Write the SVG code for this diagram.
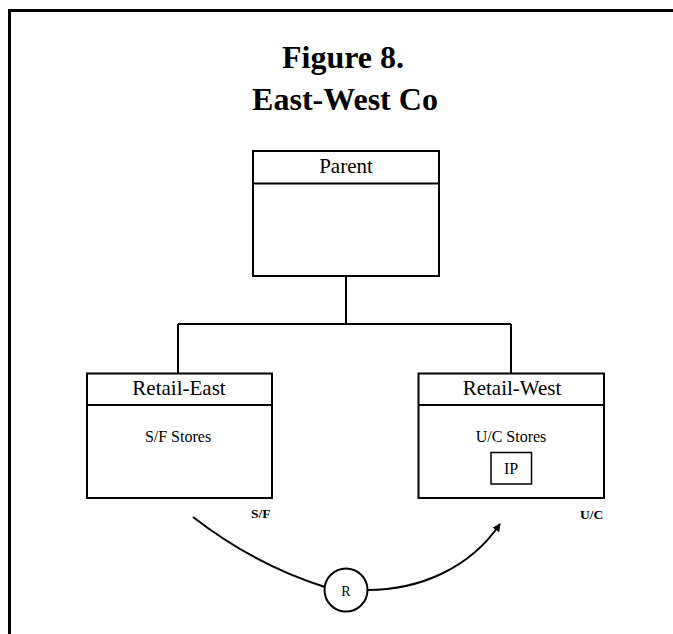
<svg xmlns="http://www.w3.org/2000/svg" width="673" height="634" viewBox="0 0 673 634">
<style>
.box{fill:none;stroke:#000;stroke-width:2}
.ln{fill:none;stroke:#000;stroke-width:2}
.title{font-family:"Liberation Serif","Times New Roman",serif;font-weight:bold;font-size:32px;fill:#000;text-anchor:middle}
.hd{font-family:"Liberation Serif","Times New Roman",serif;font-size:21px;fill:#000;text-anchor:middle}
.bd{font-family:"Liberation Serif","Times New Roman",serif;font-size:16px;fill:#000;text-anchor:middle}
.lb{font-family:"Liberation Serif","Times New Roman",serif;font-weight:bold;font-size:13.5px;fill:#000}
</style>
<defs>
<marker id="arr" viewBox="0 0 10 10" refX="9" refY="5" markerWidth="8" markerHeight="8" markerUnits="userSpaceOnUse" orient="auto">
<path d="M0,0 L10,5 L0,10 z" fill="#000"/>
</marker>
</defs>
<rect width="673" height="634" fill="#fff"/>
<path d="M9.5,634 V10.5 H673" fill="none" stroke="#000" stroke-width="3"/>
<text class="title" x="343" y="68">Figure 8.</text>
<text class="title" x="345" y="110">East-West Co</text>
<g id="connectors">
<path class="ln" d="M346,276 V324 M178,324 H511 M178,324 V373 M511,324 V373"/>
<path class="ln" d="M193,517 Q255,565 325,587"/>
<path class="ln" d="M367,590 C420,590 470,568 500,524" marker-end="url(#arr)"/>
</g>
<g id="parent">
<rect class="box" x="253" y="151" width="186" height="125"/>
<line class="ln" x1="253" y1="183.5" x2="439" y2="183.5"/>
<text class="hd" x="346" y="173">Parent</text>
</g>
<g id="retail-east">
<rect class="box" x="87" y="373.5" width="185" height="124.5"/>
<line class="ln" x1="87" y1="405" x2="272" y2="405"/>
<text class="hd" x="179" y="395">Retail-East</text>
<text class="bd" x="178" y="442">S/F Stores</text>
</g>
<g id="retail-west">
<rect class="box" x="418.5" y="373.5" width="185.5" height="124.5"/>
<line class="ln" x1="418.5" y1="405" x2="604" y2="405"/>
<text class="hd" x="512" y="395">Retail-West</text>
<text class="bd" x="511" y="442">U/C Stores</text>
</g>
<g id="ip">
<rect x="491" y="452.5" width="40.5" height="31.5" fill="none" stroke="#000" stroke-width="1.5"/>
<text class="bd" x="511" y="474">IP</text>
</g>
<g id="r">
<circle cx="346" cy="590" r="21.5" fill="#fff" stroke="#000" stroke-width="2"/>
<text class="bd" x="346" y="596" style="font-size:14px">R</text>
</g>
<text class="lb" x="251" y="518">S/F</text>
<text class="lb" x="580" y="519">U/C</text>
</svg>
